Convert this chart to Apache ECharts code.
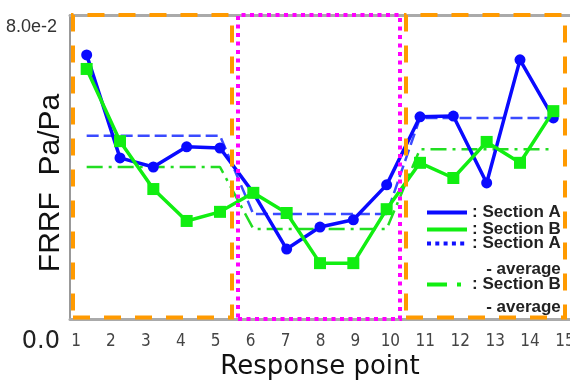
<!DOCTYPE html>
<html><head><meta charset="utf-8">
<script src="https://cdn.jsdelivr.net/npm/echarts@6/dist/echarts.min.js"></script>
<style>html,body{margin:0;padding:0;background:#fff}#c{width:570px;height:385px}</style>
</head><body><div id="c"></div>
<script>
// ---- data ----
const responsePoints = [1,2,3,4,5,6,7,8,9,10,11,12,13,14,15];
const sectionA = [0.0695,0.0424,0.0400,0.0453,0.0450,0.0332,0.0184,0.0242,0.0261,0.0353,0.0532,0.0534,0.0358,0.0682,0.0529];
const sectionB = [0.0658,0.0468,0.0342,0.0258,0.0282,0.0332,0.0279,0.0147,0.0147,0.0289,0.0411,0.0371,0.0466,0.0411,0.0547];
const sectionStart = [1,6,11];
const sectionEnd = [5,10,15];
const averageA = [0.0482,0.0276,0.0529];
const averageB = [0.0400,0.0237,0.0447];
const xTickValues = [1,2,3,4,5,6,7,8,9,10,11,12,13,14,15];
const xTickLabels = ['1','2','3','4','5','6','7','8','9','10','11','12','13','14','15'];
const yTickValues = [0, 0.08];
const yTickLabels = ['0.0','8.0e-2'];
const boxLeft = [0.59, 5.54, 10.58];
const boxRight = [5.36, 10.40, 15.35];
const boxBottom = [0.0004, 0.0, 0.0004];
const boxTop = [0.08, 0.08, 0.08];
const seriesNames = ['Section A','Section B','Section A - average','Section B - average'];

// ---- styles ----
const boxStyles = [
  {color:'rgba(0,0,0,0)', borderColor:'#ff9a00', borderWidth:4, borderType:[17,14]},
  {color:'rgba(0,0,0,0)', borderColor:'#ff00ff', borderWidth:4, borderType:[4,4.5]},
  {color:'rgba(0,0,0,0)', borderColor:'#ff9a00', borderWidth:4, borderType:[17,14]}
];

function avgData(avg){
  const d = [];
  for (let i = 0; i < avg.length; i++) {
    d.push([sectionStart[i], avg[i]]);
    d.push([sectionEnd[i], avg[i]]);
  }
  return d;
}
const dataA = responsePoints.map((x,i)=>[x, sectionA[i]]);
const dataB = responsePoints.map((x,i)=>[x, sectionB[i]]);
const areas = boxLeft.map((l,i)=>[
  {coord:[l, boxBottom[i]], itemStyle: boxStyles[i]},
  {coord:[boxRight[i], boxTop[i]]}
]);

const hideSym = {color:'rgba(0,0,0,0)', borderWidth:0, opacity:0};
const legFont = {fontFamily:'Liberation Sans, Arial, sans-serif', fontWeight:'bold', fontSize:17, color:'#222'};

const chart = echarts.init(document.getElementById('c'), null, {renderer:'canvas'});
chart.setOption({
  animation:false,
  backgroundColor:'#fff',
  grid:{left:70, right:0, top:15, bottom:66, outerBoundsMode:'none', containLabel:false},
  xAxis:[
    { // data axis (top border)
      type:'value', position:'top', min:0.5, max:15.5,
      axisLine:{show:true, onZero:false, lineStyle:{color:'#aaaaaa', width:3}},
      axisTick:{show:false}, axisLabel:{show:false}, splitLine:{show:false}
    },
    { // labelled axis (bottom)
      type:'value', position:'bottom', min:0.82822, max:15.1429,
      axisLine:{show:true, onZero:false, lineStyle:{color:'#aaaaaa', width:3}},
      axisTick:{show:false}, splitLine:{show:false},
      axisLabel:{
        customValues: xTickValues,
        formatter:(v)=>{const i = xTickValues.indexOf(v); return i>=0 ? xTickLabels[i] : '';},
        fontFamily:'Liberation Sans Narrow, DejaVu Sans Condensed, sans-serif',
        fontSize:17, color:'#444', margin:14
      },
      name:'Response point', nameLocation:'middle', nameGap:35, nameMoveOverlap:false,
      nameTextStyle:{fontFamily:'DejaVu Sans, sans-serif', fontSize:26, color:'#111'}
    }
  ],
  yAxis:{
    type:'value', min:0, max:0.08,
    axisLine:{show:true, onZero:false, lineStyle:{color:'#777777', width:1.5}},
    axisTick:{show:false}, splitLine:{show:false},
    axisLabel:{
      customValues: yTickValues,
      formatter:(v)=>{const i = yTickValues.indexOf(v); return i===0 ? '{z|'+yTickLabels[0]+'}' : '{t|'+yTickLabels[1]+'}';},
      verticalAlign:'top', margin:10,
      rich:{
        z:{fontFamily:'DejaVu Sans, sans-serif', fontSize:24, color:'#222', padding:[11,0,0,0]},
        t:{fontFamily:'Liberation Sans, Arial, sans-serif', fontSize:18, color:'#333', padding:[3,3,0,0]}
      }
    },
    name:'FRRF  Pa/Pa', nameLocation:'middle', nameRotate:90, nameGap:4, nameMoveOverlap:false,
    nameTextStyle:{fontFamily:'Liberation Sans, Arial, sans-serif', fontSize:30, color:'#111', padding:[0,32,0,0]}
  },
  legend:[
    {
      orient:'vertical', left:425, top:204, padding:0, itemGap:0, itemWidth:40, itemHeight:4,
      selectedMode:false,
      data:[
        {name:seriesNames[0], itemStyle:hideSym, lineStyle:{width:4}},
        {name:seriesNames[1], itemStyle:hideSym, lineStyle:{width:4}}
      ],
      formatter:(n)=>': '+n,
      textStyle:Object.assign({lineHeight:16}, legFont)
    },
    {
      orient:'vertical', left:425, top:235, padding:0, itemGap:0, itemWidth:40, itemHeight:4,
      selectedMode:false,
      data:[{name:seriesNames[2], itemStyle:hideSym, lineStyle:{width:4, type:[4,4.3], color:'#1010ff'}}],
      formatter:(n)=>{const p = n.split(' - '); return '{a|: '+p[0]+'}\n{b|- '+p[1]+'}';},
      textStyle:Object.assign({padding:[26,0,0,0], rich:{
        a:Object.assign({lineHeight:26}, legFont),
        b:Object.assign({lineHeight:26, align:'right'}, legFont)
      }}, legFont)
    },
    {
      orient:'vertical', left:425, top:276, padding:0, itemGap:0, itemWidth:40, itemHeight:4,
      selectedMode:false,
      data:[{name:seriesNames[3], itemStyle:hideSym, lineStyle:{width:4, type:[20,10,4,10], color:'#11ee11'}}],
      formatter:(n)=>{const p = n.split(' - '); return '{a|: '+p[0]+'}\n{b|- '+p[1]+'}';},
      textStyle:Object.assign({padding:[23,0,0,0], rich:{
        a:Object.assign({lineHeight:23}, legFont),
        b:Object.assign({lineHeight:23, align:'right'}, legFont)
      }}, legFont)
    }
  ],
  series:[
    {
      name:seriesNames[2], type:'line', xAxisIndex:0, data:avgData(averageA),
      symbol:'none', z:2,
      lineStyle:{color:'#3a4aff', width:2.5, type:[12,5]}, itemStyle:{color:'#3a4aff'}
    },
    {
      name:seriesNames[3], type:'line', xAxisIndex:0, data:avgData(averageB),
      symbol:'none', z:2,
      lineStyle:{color:'#22dd22', width:2.5, type:[16,6,3,6]}, itemStyle:{color:'#22dd22'}
    },
    {
      name:seriesNames[0], type:'line', xAxisIndex:0, data:dataA,
      symbol:'circle', symbolSize:11, z:3,
      lineStyle:{color:'#0a0aff', width:3.5}, itemStyle:{color:'#0a0aff'}
    },
    {
      name:seriesNames[1], type:'line', xAxisIndex:0, data:dataB,
      symbol:'rect', symbolSize:12, z:4,
      lineStyle:{color:'#11ee11', width:3.5}, itemStyle:{color:'#11ee11'}
    },
    {
      name:'regions', type:'line', xAxisIndex:0, data:[], silent:true, z:6,
      markArea:{silent:true, z:6, data:areas, label:{show:false}}
    }
  ]
});
</script></body></html>
